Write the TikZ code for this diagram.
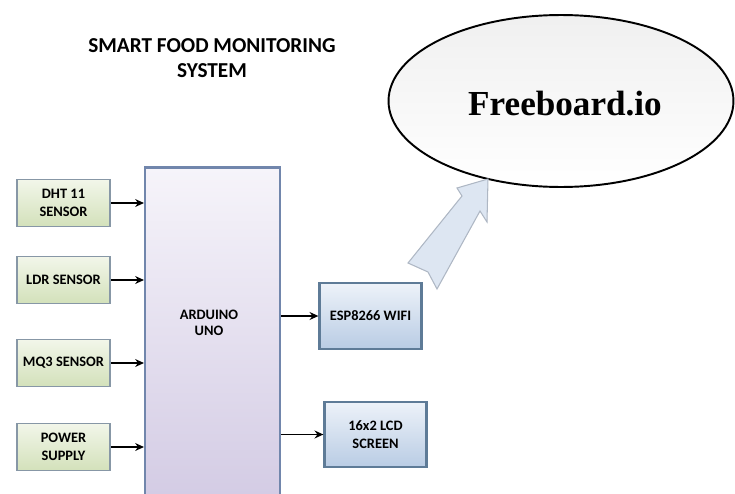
\documentclass[tikz,border=0pt]{standalone}
\usepackage{fontspec}
\setmainfont{Carlito}
\newfontfamily\cloudfont{Liberation Serif}
\usetikzlibrary{positioning, arrows.meta, shapes.geometric}

\definecolor{sensortop}{HTML}{F2F6EA}
\definecolor{sensorbot}{HTML}{D3E1BA}
\definecolor{sensorline}{HTML}{8797A6}
\definecolor{unotop}{HTML}{F6F4FA}
\definecolor{unobot}{HTML}{D3CBE4}
\definecolor{unoline}{HTML}{7186AC}
\definecolor{modtop}{HTML}{EDF2F9}
\definecolor{modbot}{HTML}{B9CCE4}
\definecolor{modline}{HTML}{5E7B97}
\definecolor{cloudarrow}{HTML}{DDE6F2}
\definecolor{cloudedge}{HTML}{AEB7C4}

\begin{document}
\begin{tikzpicture}[
    x=0.02cm, y=-0.02cm,
    font=\bfseries\fontsize{8.2}{10}\selectfont,
    sensor/.style={rectangle, draw=sensorline, line width=1pt, top color=sensortop, bottom color=sensorbot,
                   minimum width=1.86cm, minimum height=0.94cm, align=center, inner sep=1pt},
    mcu/.style={rectangle, draw=unoline, line width=1.2pt, top color=unotop, bottom color=unobot,
                minimum width=2.7cm, minimum height=6.7cm},
    module/.style={rectangle, draw=modline, line width=1.3pt, top color=modtop, bottom color=modbot,
                   minimum width=2.04cm, minimum height=1.31cm, align=center, inner sep=1pt},
    cloud/.style={ellipse, draw=black, line width=1.1pt, top color=gray!12, bottom color=white,
                  minimum width=6.9cm, minimum height=3.44cm},
    arrow/.style={-{Stealth[length=5pt, width=4.5pt]}, line width=0.8pt},
    title/.style={font=\bfseries\fontsize{12.1}{13.8}\selectfont, align=center}
]
\useasboundingbox (0,0) rectangle (735,494);
\clip (0,0) rectangle (735,494);

% --- Titulo ---
\node[title] (titulo) at (212,58) {SMART FOOD MONITORING\\SYSTEM};

% --- Sensores ---
\node[sensor] (dht) at (63.5,203) {DHT 11\\SENSOR};
\node[sensor] (ldr) at (63.5,280) {LDR SENSOR};
\node[sensor] (mq3) at (63.5,363) {MQ3 SENSOR};
\node[sensor] (power) at (63.5,447) {POWER\\SUPPLY};

% --- Placa central ---
\node[mcu] (uno) at (212.5,335) {};
\node[align=center] (unotext) at (209,323) {ARDUINO\\[-1pt]UNO};

% --- Modulos de salida ---
\node[module] (esp) at (370.5,316) {ESP8266 WIFI};
\node[module] (lcd) at (375.5,434.5) {16x2 LCD\\SCREEN};

% --- Nube ---
\node[cloud] (freeboard) at (561,101) {};
\node[font=\cloudfont\bfseries\fontsize{20}{24}\selectfont] (fbtext) at (565,104) {Freeboard.io};

% --- Flecha hacia la nube ---
\coordinate (tip) at (488,179);
\filldraw[fill=cloudarrow, draw=cloudedge, line width=0.6pt]
    (tip) -- (487,222) -- (480,211) -- (437,289) -- (428,272) -- (408,263)
    -- (462,196) -- (457,188) -- cycle;

% --- Flechas ---
\draw[arrow] (dht.east) -- (dht.east -| uno.west);
\draw[arrow] (ldr.east) -- (ldr.east -| uno.west);
\draw[arrow] (mq3.east) -- (mq3.east -| uno.west);
\draw[arrow] (power.east) -- (power.east -| uno.west);
\draw[arrow] (esp.west -| uno.east) -- (esp.west);
\draw[arrow] (lcd.west -| uno.east) -- (lcd.west);
\end{tikzpicture}
\end{document}
